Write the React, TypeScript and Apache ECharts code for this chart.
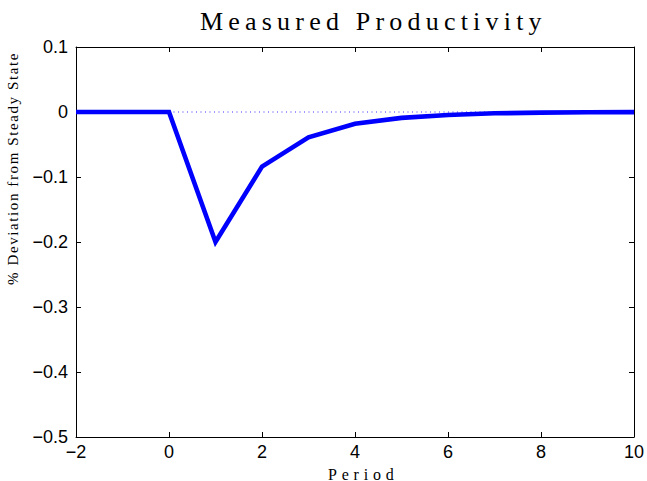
import React, { useEffect, useRef } from "react";
import * as echarts from "echarts";

const periods = [-2, -1, 0, 1, 2, 3, 4, 5, 6, 7, 8, 9, 10];
const productivity = [0, 0, 0, -0.2, -0.084, -0.039, -0.018, -0.009, -0.0045, -0.002, -0.001, -0.0005, -0.0002];
const zeroLinePeriods = [0, 10];
const zeroLineValues = [0, 0];
const titleText = "Measured Productivity";
const xLabelText = "Period";
const yLabelText = "% Deviation from Steady State";

const fmt = (v: number, digits: number) => {
  const r = Math.round(v * Math.pow(10, digits)) / Math.pow(10, digits);
  if (r === 0) return "0";
  return String(r).replace("-", "\u2212");
};

export default function App() {
  const ref = useRef<HTMLDivElement>(null);
  useEffect(() => {
    if (!ref.current) return;
    const chart = echarts.init(ref.current, undefined, { renderer: "svg" });
    const tickFont = { fontFamily: "Liberation Sans", fontSize: 18, color: "#000" };
    const axisCommon = {
      axisLine: { show: true, onZero: false, lineStyle: { color: "#000", width: 1 } },
      axisTick: { show: true, inside: true, length: 5, lineStyle: { color: "#000", width: 1 } },
      splitLine: { show: false },
    };
    chart.setOption({
      animation: false,
      backgroundColor: "#fff",
      grid: { left: 76, right: 13, top: 47, bottom: 44, containLabel: false },
      xAxis: [
        {
          type: "value", min: -2, max: 10, interval: 2, position: "bottom",
          ...axisCommon,
          axisLabel: { ...tickFont, margin: 6, formatter: (v: number) => fmt(v, 0) },
        },
        {
          type: "value", min: -2, max: 10, interval: 2, position: "top",
          ...axisCommon, axisLabel: { show: false },
        },
      ],
      yAxis: [
        {
          type: "value", min: -0.5, max: 0.1, interval: 0.1, position: "left",
          ...axisCommon,
          axisLabel: { ...tickFont, margin: 8, formatter: (v: number) => fmt(v, 1) },
        },
        {
          type: "value", min: -0.5, max: 0.1, interval: 0.1, position: "right",
          ...axisCommon, axisLabel: { show: false },
        },
      ],
      series: [
        {
          type: "line",
          data: zeroLinePeriods.map((p, i) => [p, zeroLineValues[i]]),
          symbol: "none",
          lineStyle: { color: "#0000ff", width: 1, type: [1, 3.5], opacity: 0.8 },
          z: 1,
        },
        {
          type: "line",
          data: periods.map((p, i) => [p, productivity[i]]),
          symbol: "none",
          lineStyle: { color: "#0000ff", width: 4.6, join: "miter" },
          z: 2,
        },
      ],
      graphic: [
        {
          type: "text", x: 200, y: 21,
          style: { text: titleText, font: '26px "Liberation Serif"', fill: "#000", textAlign: "left", textVerticalAlign: "middle" },
        },
        {
          type: "text", x: 328, y: 474,
          style: { text: xLabelText, font: '16px "Liberation Serif"', fill: "#000", textAlign: "left", textVerticalAlign: "middle" },
        },
        {
          type: "text", x: 13, y: 285, rotation: Math.PI / 2,
          style: { text: yLabelText, font: '15px "Liberation Serif"', fill: "#000", textAlign: "left", textVerticalAlign: "middle" },
        },
      ],
    });
    const spacing: Record<string, string> = {
      [titleText]: "5.2px",
      [xLabelText]: "4.8px",
      [yLabelText]: "1.6px",
    };
    const apply = () => {
      if (!ref.current) return;
      ref.current.querySelectorAll("text").forEach((t) => {
        const s = spacing[t.textContent || ""];
        if (s) t.setAttribute("letter-spacing", s);
      });
    };
    apply();
    chart.on("finished", apply);
    const timer = setTimeout(apply, 50);
    return () => {
      clearTimeout(timer);
      chart.dispose();
    };
  }, []);
  return <div ref={ref} style={{ width: 647, height: 481, position: "fixed", left: 0, top: 0 }} />;
}
